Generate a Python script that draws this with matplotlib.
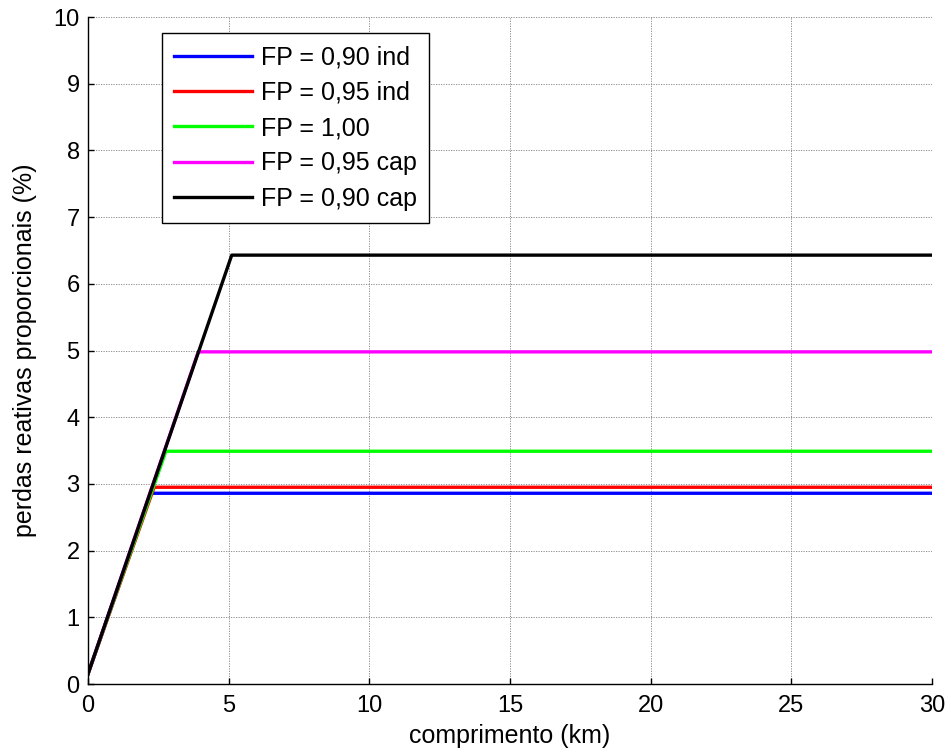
import matplotlib.pyplot as plt

plt.rcParams['font.family'] = ['Liberation Sans', 'DejaVu Sans']

# comprimento (km) onde a curva satura e valor da saturacao (%)
labels = ["FP = 0,90 ind", "FP = 0,95 ind", "FP = 1,00", "FP = 0,95 cap", "FP = 0,90 cap"]
colors = ["#0000ff", "#ff0000", "#00ff00", "#ff00ff", "#000000"]
x_start = 0.0
y_start = 0.15
x_sat = [2.24, 2.35, 2.77, 3.92, 5.11]
y_sat = [2.86, 2.95, 3.49, 4.98, 6.43]
x_end = 30.0

fig = plt.figure(figsize=(9.51, 7.56), dpi=100)
ax = fig.add_axes([0.0925, 0.0952, 0.8875, 0.8823])

for lab, col, xs, ys in zip(labels, colors, x_sat, y_sat):
    ax.plot([x_start, xs, x_end], [y_start, ys, ys], color=col, lw=2.4, label=lab,
            solid_joinstyle='round')

ax.set_xlim(0, 30)
ax.set_ylim(0, 10)
ax.set_xticks(range(0, 31, 5))
ax.set_yticks(range(0, 11))
ax.grid(True, color='#808080', linestyle=(0, (1.5, 1.5)), linewidth=0.6)
ax.tick_params(direction='in', length=4, labelsize=17, width=1)
ax.tick_params(axis='x', pad=8)
ax.tick_params(axis='y', pad=6)
for s in ['top', 'right']:
    ax.spines[s].set_visible(False)
for s in ['left', 'bottom']:
    ax.spines[s].set_linewidth(1.0)

ax.set_xlabel("comprimento (km)", fontsize=18, labelpad=5)
ax.set_ylabel("perdas reativas proporcionais (%)", fontsize=18, labelpad=12)

leg = ax.legend(loc='upper left', bbox_to_anchor=(0.0877, 0.976), borderaxespad=0,
                fontsize=18, handlelength=3.1, handletextpad=0.36, labelspacing=0.45,
                borderpad=0.5, fancybox=False, framealpha=1, edgecolor='black')
leg.get_frame().set_linewidth(1.0)

fig.savefig("out.png", dpi=100)
